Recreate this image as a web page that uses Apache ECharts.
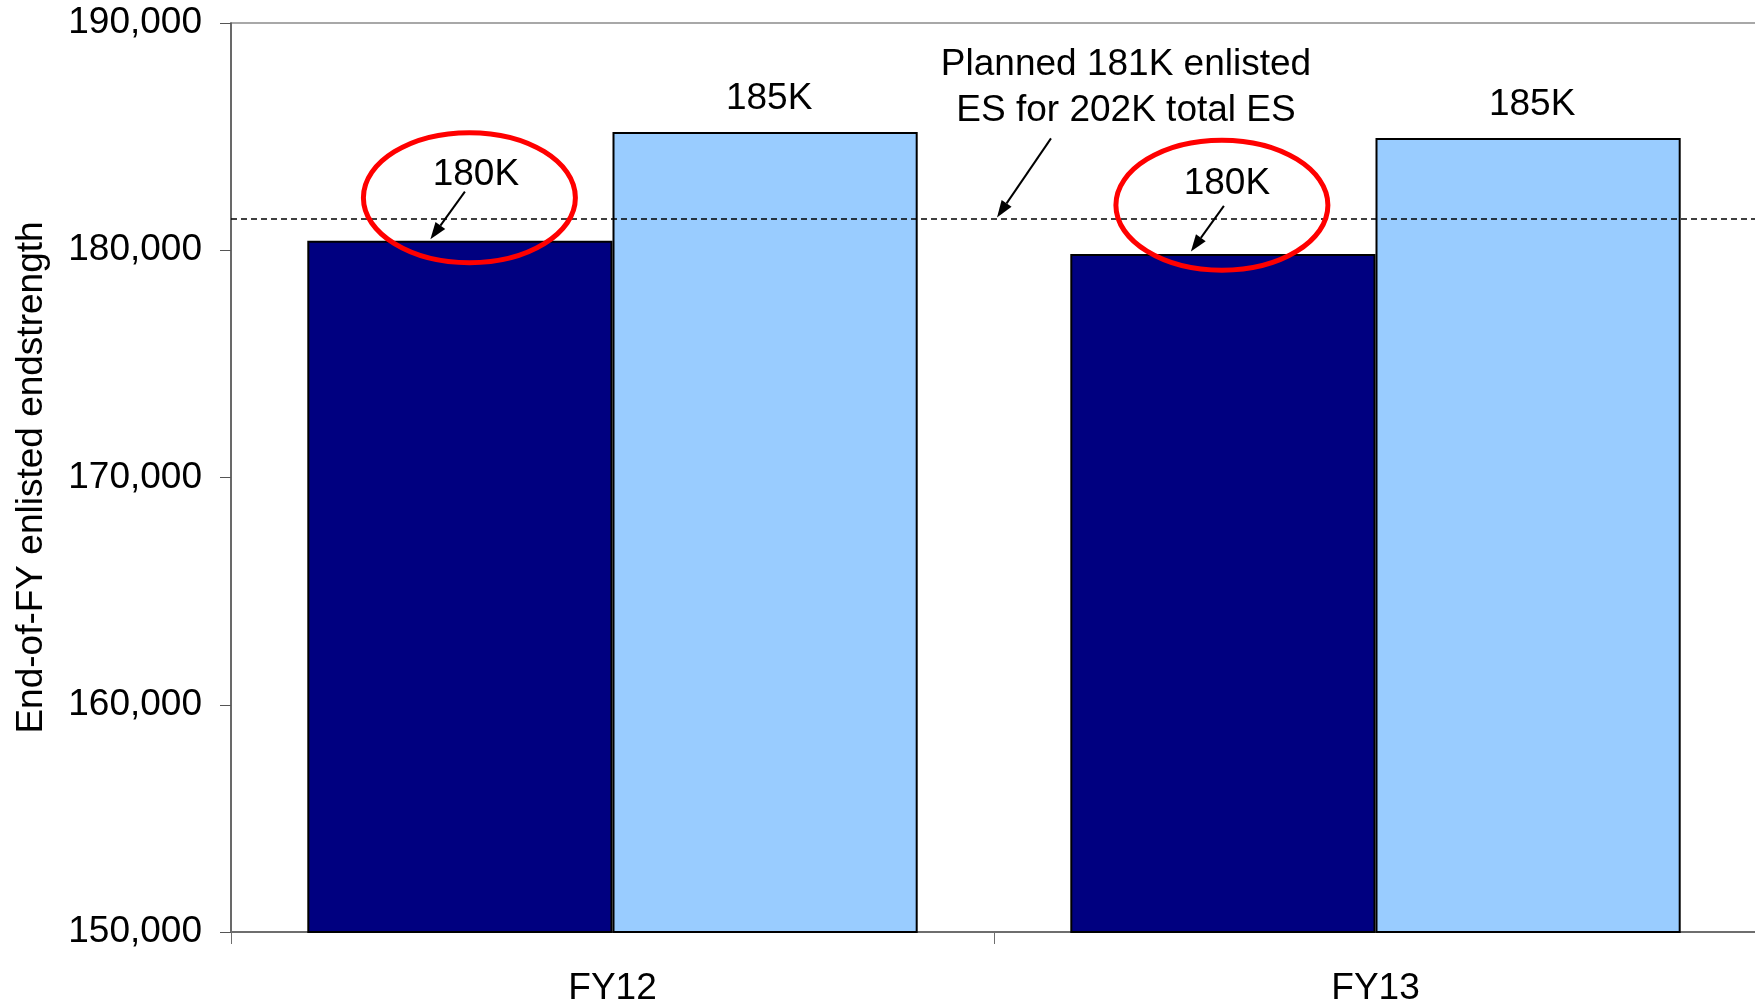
<!DOCTYPE html>
<html>
<head>
<meta charset="utf-8">
<title>End-of-FY enlisted endstrength</title>
<script src="https://cdn.jsdelivr.net/npm/echarts@6/dist/echarts.min.js"></script>
<style>
  html, body { margin: 0; padding: 0; background: #fff; }
  #main { width: 1755px; height: 1004px; }
</style>
</head>
<body>
<div id="main"></div>
<script>
// Fiscal years on the x axis
const categories = ['FY12', 'FY13'];
// End-of-year enlisted endstrength, navy bars
const endstrengthNavy = [180420, 179840];
// End-of-year enlisted endstrength, light blue bars
const endstrengthLight = [185200, 184940];
// Planned enlisted endstrength (dashed reference line)
const plannedEnlisted = 181400;
// Value axis range and step
const yMin = 150000, yMax = 190000, yStep = 10000;

const FONT = '"Liberation Sans", Arial, Helvetica, sans-serif';
const FS = 37;
const kLabel = v => Math.round(v / 1000) + 'K';

// Per-bar tweaks for the circled navy labels
const navyLabelPlace = [
  { distance: 47, offset: [16, 0] },
  { distance: 52, offset: [4, 0] }
];

const chart = echarts.init(document.getElementById('main'), null, { renderer: 'canvas' });

const option = {
  animation: false,
  backgroundColor: '#ffffff',
  grid: {
    left: 231, right: -2, top: 23, bottom: 72,
    outerBoundsMode: 'none',
    containLabel: false,
    show: true, borderColor: '#8c8c8c', borderWidth: 1.5
  },
  xAxis: {
    type: 'category',
    data: categories,
    axisLine: { lineStyle: { color: '#6e6e6e', width: 2 } },
    axisTick: { show: true, length: 12, lineStyle: { color: '#6e6e6e', width: 1 } },
    axisLabel: { fontFamily: FONT, fontSize: FS, color: '#000', margin: 38 }
  },
  yAxis: {
    type: 'value',
    min: yMin, max: yMax, interval: yStep,
    name: 'End-of-FY enlisted endstrength',
    nameLocation: 'middle',
    nameGap: 181,
    nameTextStyle: { fontFamily: FONT, fontSize: FS, color: '#000' },
    axisLine: { show: true, lineStyle: { color: '#555', width: 1.5 } },
    axisTick: { show: true, length: 11, lineStyle: { color: '#555', width: 1 } },
    splitLine: { show: false },
    axisLabel: {
      fontFamily: FONT, fontSize: FS, color: '#000', margin: 29,
      padding: [8, 0, 0, 0],
      formatter: v => v.toLocaleString('en-US')
    }
  },
  series: [
    {
      type: 'bar',
      data: endstrengthNavy.map((v, i) => ({
        value: v,
        label: { distance: navyLabelPlace[i].distance, offset: navyLabelPlace[i].offset }
      })),
      barGap: '0%',
      barCategoryGap: '20%',
      itemStyle: { color: '#000080', borderColor: '#000', borderWidth: 2 },
      label: {
        show: true, position: 'top',
        fontFamily: FONT, fontSize: FS, color: '#000',
        formatter: p => kLabel(p.value)
      },
      z: 2
    },
    {
      type: 'bar',
      data: endstrengthLight,
      barGap: '0%',
      barCategoryGap: '20%',
      itemStyle: { color: '#99CCFF', borderColor: '#000', borderWidth: 2 },
      label: {
        show: true, position: 'top', distance: 15, offset: [4, 0],
        fontFamily: FONT, fontSize: FS, color: '#000',
        formatter: p => kLabel(p.value)
      },
      markLine: {
        silent: true,
        symbol: ['none', 'none'],
        label: { show: false },
        lineStyle: { type: [6, 4], color: '#000', width: 1.6 },
        data: [{ yAxis: plannedEnlisted }]
      },
      z: 2
    }
  ]
};

chart.setOption(option);

// Arrow with a filled head at (x2, y2)
function arrow(x1, y1, x2, y2) {
  const ang = Math.atan2(y2 - y1, x2 - x1);
  const len = 17, half = 6;
  const bx = x2 - len * Math.cos(ang), by = y2 - len * Math.sin(ang);
  const px = -Math.sin(ang) * half, py = Math.cos(ang) * half;
  return [
    { type: 'line', shape: { x1: x1, y1: y1, x2: bx, y2: by },
      style: { stroke: '#000', lineWidth: 2 }, z: 10 },
    { type: 'polygon', shape: { points: [[x2, y2], [bx + px, by + py], [bx - px, by - py]] },
      style: { fill: '#000' }, z: 10 }
  ];
}

// Ellipse and arrow placement around each navy bar top
const circleOffsets = [{ dx: 9.5, dy: -43 }, { dx: -1, dy: -48.7 }];
const arrowOffsets = [
  { sx: 5, sy: -49, tx: -29.5, ty: -1.4 },
  { sx: 1, sy: -48, tx: -32, ty: -2.3 }
];

function annotate() {
  const x0 = chart.convertToPixel({ xAxisIndex: 0 }, categories[0]);
  const x1 = chart.convertToPixel({ xAxisIndex: 0 }, categories[1]);
  const band = x1 - x0;
  const els = [];

  categories.forEach((c, i) => {
    const cx = chart.convertToPixel({ xAxisIndex: 0 }, c) - band * 0.2;
    const top = chart.convertToPixel({ yAxisIndex: 0 }, endstrengthNavy[i]);
    const co = circleOffsets[i];
    els.push({
      type: 'ellipse',
      shape: { cx: cx + co.dx, cy: top + co.dy, rx: 106, ry: 65 },
      style: { fill: 'none', stroke: '#ff0000', lineWidth: 5 },
      z: 9
    });
    const ao = arrowOffsets[i];
    els.push(...arrow(cx + ao.sx, top + ao.sy, cx + ao.tx, top + ao.ty));
  });

  // Note pointing at the planned-endstrength line
  const lineY = chart.convertToPixel({ yAxisIndex: 0 }, plannedEnlisted);
  const gapX = x0 + band / 2;
  els.push({
    type: 'text',
    x: gapX + 132, y: lineY - 131,
    style: {
      text: 'Planned 181K enlisted\nES for 202K total ES',
      fontFamily: FONT, fontSize: FS, fill: '#000',
      lineHeight: 46, align: 'center', verticalAlign: 'middle'
    },
    z: 10
  });
  els.push(...arrow(gapX + 57, lineY - 80, gapX + 3, lineY - 1));

  chart.setOption({ graphic: { elements: els } });
}

annotate();
</script>
</body>
</html>
